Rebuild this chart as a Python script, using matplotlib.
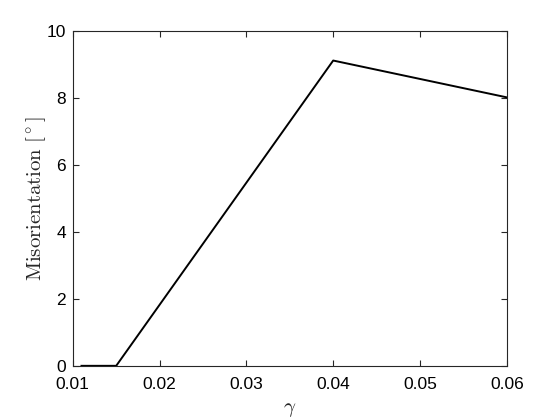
import matplotlib
matplotlib.use("Agg")
import matplotlib.pyplot as plt

# data
gamma = [0.011, 0.015, 0.040, 0.060]
misorientation = [0.0, 0.0, 9.12, 8.02]
x_ticks = [0.01, 0.02, 0.03, 0.04, 0.05, 0.06]
y_ticks = [0, 2, 4, 6, 8, 10]

plt.rcParams["font.family"] = ["Liberation Sans", "DejaVu Sans"]
plt.rcParams["mathtext.fontset"] = "cm"

fig = plt.figure(figsize=(5.6, 4.2), dpi=100)
ax = fig.add_axes([0.13, 0.129, 0.775, 0.797])

ax.plot(gamma, misorientation, color="black", lw=1.4)

ax.set_xlim(0.01, 0.06)
ax.set_ylim(0, 10)
ax.set_xticks(x_ticks)
ax.set_xticklabels(["%g" % t for t in x_ticks])
ax.set_yticks(y_ticks)
ax.tick_params(direction="in", length=4, width=0.8, top=True, right=True,
               labelsize=12.5, colors="#262626")
ax.tick_params(axis="x", pad=8)
ax.tick_params(axis="y", pad=5)
ax.tick_params(labelcolor="black")
for s in ax.spines.values():
    s.set_linewidth(0.8)
    s.set_color("#262626")

ax.set_xlabel(r"$\gamma$", fontsize=15, labelpad=6, color="#262626")
ax.set_ylabel(r"$\mathrm{Misorientation}\ [^\circ]$", fontsize=15,
              labelpad=-1, color="#262626")

fig.savefig("out.png", dpi=100)
